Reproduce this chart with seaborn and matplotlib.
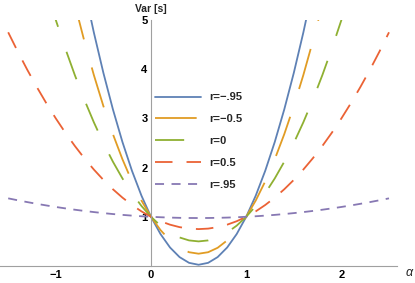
import matplotlib
matplotlib.use("Agg")
import matplotlib.pyplot as plt
import seaborn as sns
from matplotlib.ticker import MultipleLocator, FixedLocator

# Var[s] contra alpha para cinco correlaciones r
alpha = [-1.5, -1.4, -1.3, -1.2, -1.1, -1.0, -0.9, -0.8, -0.7, -0.6,
         -0.5, -0.4, -0.3, -0.2, -0.1, 0.0, 0.1, 0.2, 0.3, 0.4,
         0.5, 0.6, 0.7, 0.8, 0.9, 1.0, 1.1, 1.2, 1.3, 1.4,
         1.5, 1.6, 1.7, 1.8, 1.9, 2.0, 2.1, 2.2, 2.3, 2.4, 2.5]

var_r_m95 = [15.625, 14.104, 12.661, 11.296, 10.009, 8.8, 7.669, 6.616, 5.641, 4.744,
             3.925, 3.184, 2.521, 1.936, 1.429, 1.0, 0.649, 0.376, 0.181, 0.064,
             0.025, 0.064, 0.181, 0.376, 0.649, 1.0, 1.429, 1.936, 2.521, 3.184,
             3.925, 4.744, 5.641, 6.616, 7.669, 8.8, 10.009, 11.296, 12.661, 14.104, 15.625]
var_r_m05 = [12.25, 11.08, 9.97, 8.92, 7.93, 7.0, 6.13, 5.32, 4.57, 3.88,
             3.25, 2.68, 2.17, 1.72, 1.33, 1.0, 0.73, 0.52, 0.37, 0.28,
             0.25, 0.28, 0.37, 0.52, 0.73, 1.0, 1.33, 1.72, 2.17, 2.68,
             3.25, 3.88, 4.57, 5.32, 6.13, 7.0, 7.93, 8.92, 9.97, 11.08, 12.25]
var_r_0 = [8.5, 7.72, 6.98, 6.28, 5.62, 5.0, 4.42, 3.88, 3.38, 2.92,
           2.5, 2.12, 1.78, 1.48, 1.22, 1.0, 0.82, 0.68, 0.58, 0.52,
           0.5, 0.52, 0.58, 0.68, 0.82, 1.0, 1.22, 1.48, 1.78, 2.12,
           2.5, 2.92, 3.38, 3.88, 4.42, 5.0, 5.62, 6.28, 6.98, 7.72, 8.5]
var_r_05 = [4.75, 4.36, 3.99, 3.64, 3.31, 3.0, 2.71, 2.44, 2.19, 1.96,
            1.75, 1.56, 1.39, 1.24, 1.11, 1.0, 0.91, 0.84, 0.79, 0.76,
            0.75, 0.76, 0.79, 0.84, 0.91, 1.0, 1.11, 1.24, 1.39, 1.56,
            1.75, 1.96, 2.19, 2.44, 2.71, 3.0, 3.31, 3.64, 3.99, 4.36, 4.75]
var_r_95 = [1.375, 1.336, 1.299, 1.264, 1.231, 1.2, 1.171, 1.144, 1.119, 1.096,
            1.075, 1.056, 1.039, 1.024, 1.011, 1.0, 0.991, 0.984, 0.979, 0.976,
            0.975, 0.976, 0.979, 0.984, 0.991, 1.0, 1.011, 1.024, 1.039, 1.056,
            1.075, 1.096, 1.119, 1.144, 1.171, 1.2, 1.231, 1.264, 1.299, 1.336, 1.375]

etiquetas = ["r=\u2212.95", "r=\u22120.5", "r=0", "r=0.5", "r=.95"]
series = [var_r_m95, var_r_m05, var_r_0, var_r_05, var_r_95]
colores = ["#5E81B5", "#E19C24", "#8FB032", "#EB6235", "#8778B3"]
estilos = ["-", (0, (30, 21)), (0, (21, 19)), (0, (12.6, 10.1)), (0, (6.5, 5.4))]

sns.set_theme(style="white")
plt.rcParams["font.family"] = ["Liberation Sans", "DejaVu Sans"]
plt.rcParams["font.weight"] = "bold"
plt.rcParams["lines.scale_dashes"] = False

fig = plt.figure(figsize=(4.15, 2.83), dpi=100)
ax = fig.add_axes([0, 17 / 283, 397 / 415, 246 / 283])

for vals, lab, col, est in zip(series, etiquetas, colores, estilos):
    sns.lineplot(x=alpha, y=vals, ax=ax, color=col, linestyle=est,
                 linewidth=1.3, label=lab, legend=False)

ax.set_xlim(-1.586, 2.584)
ax.set_ylim(0, 5)

gris = "#a0a0a0"
ax.spines["left"].set_position(("data", 0))
ax.spines["top"].set_visible(False)
ax.spines["right"].set_visible(False)
for s in ["left", "bottom"]:
    ax.spines[s].set_color(gris)
    ax.spines[s].set_linewidth(0.8)

ax.xaxis.set_major_locator(FixedLocator([-1, 0, 1, 2]))
ax.xaxis.set_minor_locator(MultipleLocator(0.2))
ax.yaxis.set_major_locator(FixedLocator([1, 2, 3, 4, 5]))
ax.yaxis.set_minor_locator(MultipleLocator(0.2))
ax.tick_params(which="both", direction="in", color=gris, width=0.8,
               labelsize=8, labelcolor="black")
ax.tick_params(which="major", length=3.2)
ax.tick_params(which="minor", length=2)
ax.tick_params(axis="x", which="major", pad=3)
ax.tick_params(axis="y", which="major", pad=2.5)
ax.set_xticklabels(["\u22121", "0", "1", "2"])
ax.set_yticklabels(["1", "2", "3", "4", "5"])

fig.text(151 / 415, 1 - 8.5 / 283, "Var [s]", ha="center", va="center",
         fontsize=7.5, fontweight="bold")
fig.text(409.5 / 415, 1 - 273 / 283, "\u03b1", ha="center", va="center",
         fontsize=9, style="italic", fontweight="normal")

ax.legend(loc="upper left", bbox_to_anchor=(155 / 415, 1 - 92.5 / 283),
          bbox_transform=fig.transFigure, frameon=False, fontsize=8,
          handlelength=4.1, handletextpad=0.8, labelspacing=1.06,
          borderpad=0, borderaxespad=0)

fig.savefig("out.png", dpi=100)
